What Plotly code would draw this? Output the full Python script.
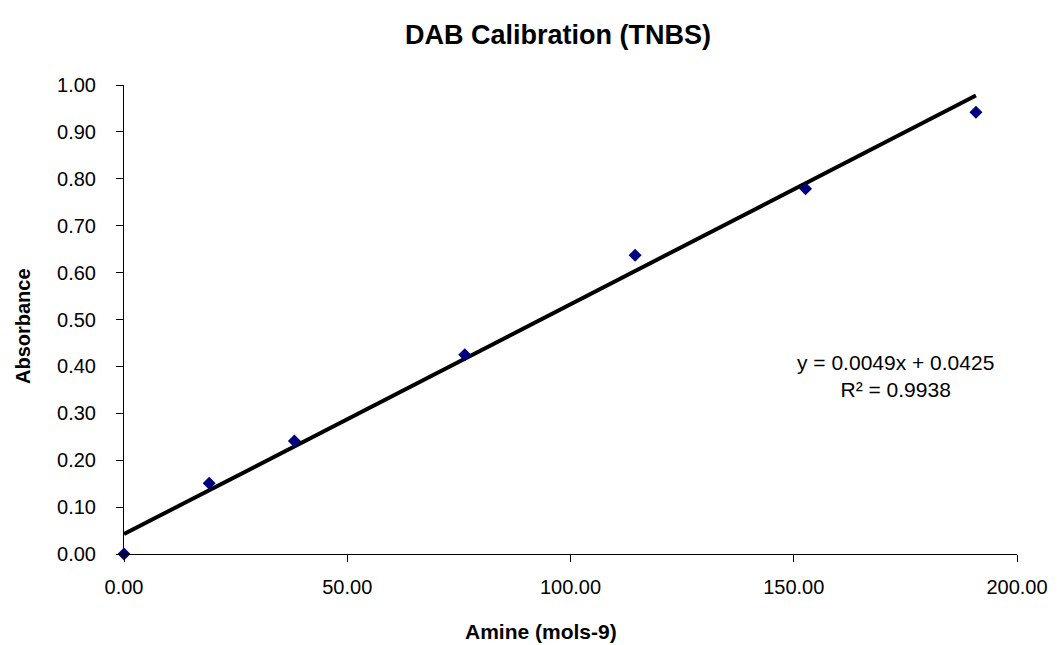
import plotly.graph_objects as go

# Calibration data: amine amount vs measured absorbance
amine = [0.0, 19.08, 38.16, 76.32, 114.48, 152.64, 190.8]
absorbance = [0.0, 0.151, 0.241, 0.425, 0.637, 0.779, 0.942]

# Linear fit reported on the chart
slope = 0.0049
intercept = 0.0425
r_squared = 0.9938

fit_x = [min(amine), max(amine)]
fit_y = [slope * x + intercept for x in fit_x]

x_ticks = [0, 50, 100, 150, 200]
y_ticks = [0.0, 0.1, 0.2, 0.3, 0.4, 0.5, 0.6, 0.7, 0.8, 0.9, 1.0]

title_text = "DAB Calibration (TNBS)"
x_title = "Amine (mols-9)"
y_title = "Absorbance"

font_family = "Liberation Sans, Arial, sans-serif"

W, H = 1060, 645
M = dict(l=123.5, r=41, t=84.5, b=91)
plot_w = W - M["l"] - M["r"]
plot_h = H - M["t"] - M["b"]


def px_to_paper(px, py):
    """Convert page pixel position to paper coordinates."""
    return (px - M["l"]) / plot_w, (H - M["b"] - py) / plot_h


fig = go.Figure()
fig.add_trace(go.Scatter(
    x=fit_x, y=fit_y, mode="lines",
    line=dict(color="black", width=4),
    hoverinfo="skip", showlegend=False,
))
fig.add_trace(go.Scatter(
    x=amine, y=absorbance, mode="markers",
    marker=dict(symbol="diamond", size=10, color="#00007f"),
    showlegend=False, cliponaxis=False,
))

# Regression equation
ex, ey = px_to_paper(897, 376)
fig.add_annotation(
    x=ex, y=ey, xref="paper", yref="paper",
    text=f"y = {slope}x + {intercept}<br>R² = {r_squared}",
    showarrow=False, align="center",
    xanchor="center", yanchor="middle",
    font=dict(family=font_family, size=21, color="black"),
)

# Axis titles
tx, ty = px_to_paper(542, 632)
fig.add_annotation(
    x=tx, y=ty, xref="paper", yref="paper",
    text=f"<b>{x_title}</b>", showarrow=False,
    xanchor="center", yanchor="middle",
    font=dict(family=font_family, size=21, color="black"),
)
tx, ty = px_to_paper(22, 326)
fig.add_annotation(
    x=tx, y=ty, xref="paper", yref="paper",
    text=f"<b>{y_title}</b>", showarrow=False, textangle=-90,
    xanchor="center", yanchor="middle",
    font=dict(family=font_family, size=20, color="black"),
)

fig.update_layout(
    width=W, height=H,
    margin=M,
    paper_bgcolor="white", plot_bgcolor="white",
    font=dict(family=font_family, size=20, color="black"),
    title=dict(
        text=f"<b>{title_text}</b>",
        x=558 / W, xref="container", xanchor="center",
        y=1 - 35 / H, yref="container", yanchor="middle",
        font=dict(size=27),
    ),
    xaxis=dict(
        range=[0, 200], tickvals=x_ticks, tickformat=".2f",
        showgrid=False, zeroline=False,
        showline=True, linecolor="black", linewidth=1,
        ticks="outside", ticklen=7, tickcolor="black",
        ticklabelstandoff=8,
    ),
    yaxis=dict(
        range=[0, 1], tickvals=y_ticks, tickformat=".2f",
        showgrid=False, zeroline=False,
        showline=True, linecolor="black", linewidth=1,
        ticks="outside", ticklen=7, tickcolor="black",
        ticklabelstandoff=16,
    ),
)

fig.write_html("out.html")
